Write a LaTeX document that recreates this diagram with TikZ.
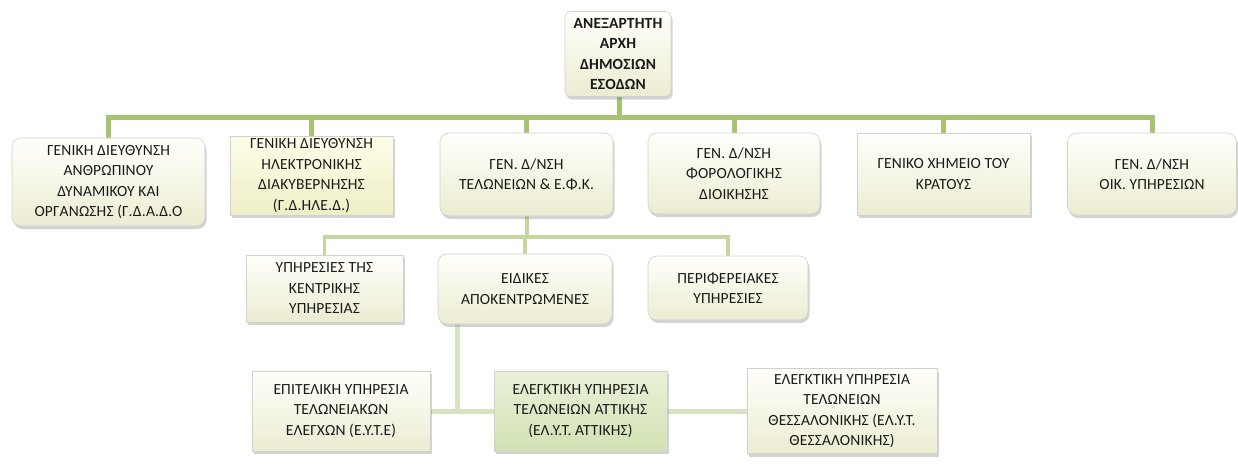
\documentclass[tikz,border=0pt]{standalone}
\usepackage{fontspec}
\setmainfont{Carlito}[LetterSpace=1]
\usetikzlibrary{shadows,backgrounds}
\definecolor{creamtop}{HTML}{FFFFFB}
\definecolor{creambot}{HTML}{ECECD2}
\definecolor{yeltop}{HTML}{FEFEEA}
\definecolor{yelbot}{HTML}{EEEEC6}
\definecolor{grntop}{HTML}{E9F1D8}
\definecolor{grnbot}{HTML}{D2E1B4}
\definecolor{lineA}{HTML}{A5C470}
\definecolor{lineB}{HTML}{C3D79F}
\definecolor{lineC}{HTML}{D7E4C4}
\definecolor{txt}{HTML}{1A1A1A}
\tikzset{
  box/.style={draw=black!18, line width=0.6pt, top color=creamtop, bottom color=creambot,
    drop shadow={shadow xshift=1.5pt, shadow yshift=-3pt, opacity=0.35},
    align=center, inner sep=0pt, text=txt, font=\fontsize{15.5}{20.5}\selectfont},
  rbox/.style={box, rounded corners=9pt},
  sbox/.style={box},
  yel/.style={top color=yeltop, bottom color=yelbot},
  grn/.style={top color=grntop, bottom color=grnbot},
  sz/.style 2 args={minimum width=#1pt, minimum height=#2pt},
  connA/.style={draw=lineA, line width=5pt},
  connB/.style={draw=lineB, line width=3.5pt},
  connC/.style={draw=lineC, line width=5pt},
}
\begin{document}
\begin{tikzpicture}[x=1pt,y=-1pt]
\useasboundingbox (0,0) rectangle (1238,466);
% top
\node[rbox, rounded corners=5pt, sz={106}{85}, font=\fontsize{15.5}{20.5}\selectfont\bfseries] (top) at (618,54)
  {ΑΝΕΞΑΡΤΗΤΗ\\ΑΡΧΗ\\ΔΗΜΟΣΙΩΝ\\ΕΣΟΔΩΝ};
% level 1
\node[rbox, sz={193}{88}] (b1) at (108.5,182)
  {ΓΕΝΙΚΗ ΔΙΕΥΘΥΝΣΗ\\ΑΝΘΡΩΠΙΝΟΥ\\ΔΥΝΑΜΙΚΟΎ ΚΑΙ\\ΟΡΓΑΝΩΣΗΣ (Γ.Δ.Α.Δ.Ο};
\node[sbox, yel, sz={163}{79}] (b2) at (311.5,175.5)
  {ΓΕΝΙΚΗ ΔΙΕΥΘΥΝΣΗ\\ΗΛΕΚΤΡΟΝΙΚΗΣ\\ΔΙΑΚΥΒΕΡΝΗΣΗΣ\\(Γ.Δ.ΗΛΕ.Δ.)};
\node[rbox, sz={173}{83}] (b3) at (526.5,174.5)
  {ΓΕΝ. Δ/ΝΣΗ\\ΤΕΛΩΝΕΙΩΝ \& Ε.Φ.Κ.};
\node[rbox, sz={172}{81}] (b4) at (734,173.5)
  {ΓΕΝ. Δ/ΝΣΗ\\ΦΟΡΟΛΟΓΙΚΗΣ\\ΔΙΟΙΚΗΣΗΣ};
\node[sbox, sz={173}{82}] (b5) at (943.5,174)
  {ΓΕΝΙΚΟ ΧΗΜΕΙΟ ΤΟΥ\\ΚΡΑΤΟΥΣ};
\node[rbox, sz={169}{82}] (b6) at (1152,174)
  {ΓΕΝ. Δ/ΝΣΗ\\ΟΙΚ. ΥΠΗΡΕΣΙΩΝ};
% level 2
\node[sbox, sz={157}{67}] (b7) at (324.5,288.5)
  {ΥΠΗΡΕΣΙΕΣ ΤΗΣ\\ΚΕΝΤΡΙΚΗΣ\\ΥΠΗΡΕΣΙΑΣ};
\node[rbox, sz={174}{70}] (b8) at (525,289)
  {ΕΙΔΙΚΕΣ\\ΑΠΟΚΕΝΤΡΩΜΕΝΕΣ};
\node[rbox, sz={160}{64}] (b9) at (728,288)
  {ΠΕΡΙΦΕΡΕΙΑΚΕΣ\\ΥΠΗΡΕΣΙΕΣ};
% level 3
\node[sbox, sz={178}{80}] (b10) at (341,411)
  {ΕΠΙΤΕΛΙΚΗ ΥΠΗΡΕΣΙΑ\\ΤΕΛΩΝΕΙΑΚΩΝ\\ΕΛΕΓΧΩΝ (Ε.Υ.Τ.Ε)};
\node[sbox, grn, sz={173}{80}] (b11) at (580.5,411)
  {ΕΛΕΓΚΤΙΚΗ ΥΠΗΡΕΣΙΑ\\ΤΕΛΩΝΕΙΩΝ ΑΤΤΙΚΗΣ\\(ΕΛ.Υ.Τ. ΑΤΤΙΚΗΣ)};
\node[sbox, sz={190}{85}] (b12) at (842,411)
  {ΕΛΕΓΚΤΙΚΗ ΥΠΗΡΕΣΙΑ\\ΤΕΛΩΝΕΙΩΝ\\ΘΕΣΣΑΛΟΝΙΚΗΣ (ΕΛ.Υ.Τ.\\ΘΕΣΣΑΛΟΝΙΚΗΣ)};
% connectors
\coordinate (hubA) at (619,117);
\coordinate (hubB) at (527,237);
\coordinate (hubC) at (457,411);
\begin{scope}[on background layer]
  \draw[connA] (top.south -| hubA) -- (hubA);
  \draw[connA] (hubA) -| (b1.north);
  \draw[connA] (hubA) -| (b2.north);
  \draw[connA] (hubA) -| (b3.north);
  \draw[connA] (hubA) -| (b4.north);
  \draw[connA] (hubA) -| (b5.north);
  \draw[connA] (hubA) -| (b6.north);
  \draw[connB] (b3.south -| hubB) -- (hubB);
  \draw[connB] (hubB) -| (b7.north);
  \draw[connB] (hubB) -| (b8.north);
  \draw[connB] (hubB) -| (b9.north);
  \draw[connC] (b8.south -| hubC) -- (hubC);
  \draw[connC] (b10.east) -- (b11.west);
  \draw[connC] (b11.east) -- (b12.west);
\end{scope}
\end{tikzpicture}
\end{document}
